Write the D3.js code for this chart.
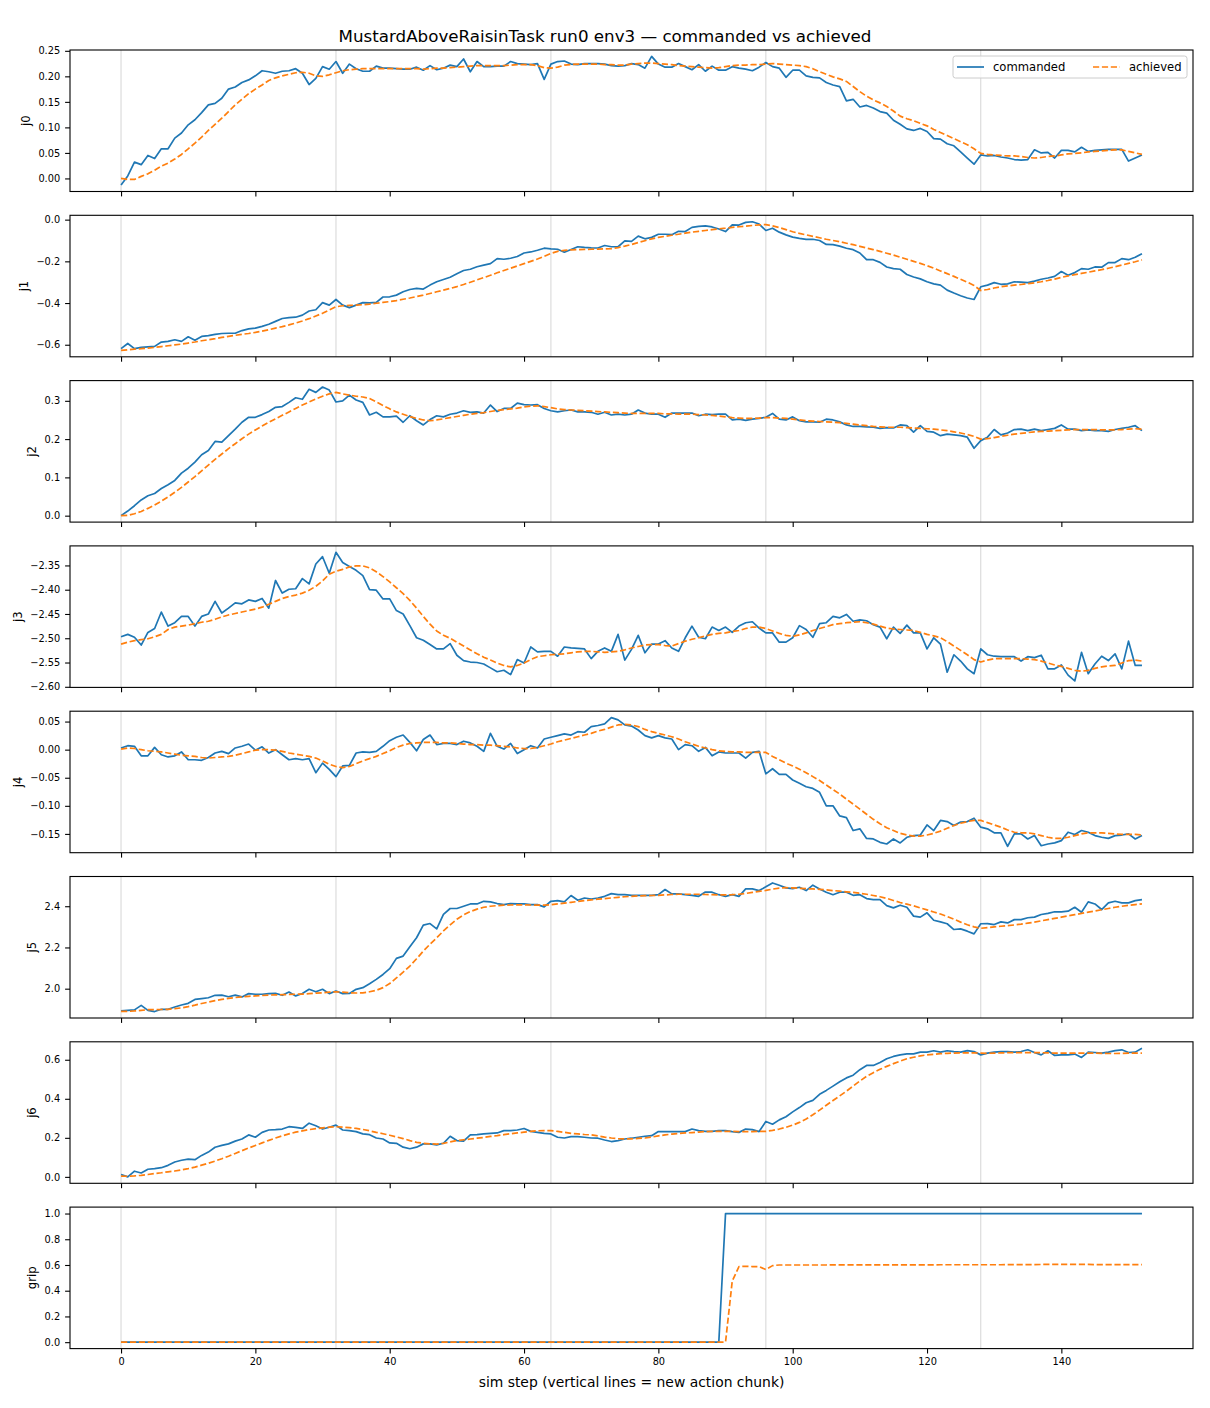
<!DOCTYPE html>
<html>
<head>
<meta charset="utf-8">
<script src="https://cdn.jsdelivr.net/npm/d3@7"></script>
<style>
  body { margin: 0; background: #fff; }
  text { font-family: "DejaVu Sans", sans-serif; }
</style>
</head>
<body>
<svg id="chart" width="1210" height="1408"></svg>
<script>
// ---- data (one value per sim step, 0..152) ----
const xTicks = [0, 20, 40, 60, 80, 100, 120, 140];
const chunkStarts = [0, 32, 64, 96, 128];

const j0Ticks = [0, 0.05, 0.1, 0.15, 0.2, 0.25];
const j1Ticks = [-0.6, -0.4, -0.2, 0];
const j2Ticks = [0, 0.1, 0.2, 0.3];
const j3Ticks = [-2.6, -2.55, -2.5, -2.45, -2.4, -2.35];
const j4Ticks = [-0.15, -0.1, -0.05, 0, 0.05];
const j5Ticks = [2.0, 2.2, 2.4];
const j6Ticks = [0, 0.2, 0.4, 0.6];
const gripTicks = [0, 0.2, 0.4, 0.6, 0.8, 1.0];

const j0Cmd = [
  -0.013, 0.005, 0.032, 0.027, 0.045, 0.039, 0.058, 0.058, 0.079, 0.089,
  0.105, 0.115, 0.129, 0.144, 0.147, 0.157, 0.175, 0.179, 0.188, 0.193,
  0.201, 0.211, 0.209, 0.206, 0.210, 0.211, 0.215, 0.206, 0.184, 0.196,
  0.219, 0.214, 0.229, 0.206, 0.224, 0.215, 0.210, 0.210, 0.220, 0.216,
  0.216, 0.215, 0.214, 0.214, 0.218, 0.212, 0.221, 0.213, 0.216, 0.222,
  0.219, 0.234, 0.209, 0.229, 0.219, 0.219, 0.220, 0.220, 0.229, 0.225,
  0.224, 0.223, 0.225, 0.194, 0.224, 0.229, 0.230, 0.224, 0.223, 0.225,
  0.225, 0.225, 0.224, 0.221, 0.220, 0.221, 0.225, 0.223, 0.216, 0.239,
  0.224, 0.218, 0.218, 0.225, 0.219, 0.213, 0.223, 0.210, 0.220, 0.212,
  0.212, 0.219, 0.216, 0.214, 0.211, 0.218, 0.227, 0.219, 0.216, 0.198,
  0.212, 0.212, 0.201, 0.198, 0.197, 0.188, 0.183, 0.180, 0.152, 0.155,
  0.140, 0.143, 0.138, 0.131, 0.128, 0.114, 0.106, 0.097, 0.094, 0.098,
  0.092, 0.078, 0.077, 0.068, 0.064, 0.052, 0.040, 0.028, 0.046, 0.044,
  0.045, 0.042, 0.040, 0.037, 0.036, 0.037, 0.056, 0.050, 0.051, 0.040,
  0.055, 0.055, 0.052, 0.061, 0.053, 0.055, 0.056, 0.057, 0.057, 0.057,
  0.034, 0.040, 0.046
];
const j0Ach = [
  0.000, -0.002, -0.002, 0.004, 0.009, 0.016, 0.024, 0.030, 0.038, 0.047,
  0.058, 0.069, 0.081, 0.094, 0.106, 0.118, 0.131, 0.144, 0.155, 0.166,
  0.175, 0.183, 0.192, 0.197, 0.201, 0.204, 0.207, 0.208, 0.206, 0.201,
  0.200, 0.203, 0.207, 0.211, 0.213, 0.214, 0.215, 0.215, 0.215, 0.215,
  0.215, 0.215, 0.215, 0.215, 0.215, 0.214, 0.215, 0.216, 0.216, 0.217,
  0.218, 0.219, 0.220, 0.221, 0.221, 0.221, 0.221, 0.221, 0.222, 0.223,
  0.223, 0.223, 0.221, 0.217, 0.216, 0.218, 0.222, 0.223, 0.224, 0.224,
  0.224, 0.224, 0.223, 0.223, 0.222, 0.222, 0.224, 0.225, 0.226, 0.226,
  0.225, 0.224, 0.223, 0.221, 0.220, 0.219, 0.218, 0.217, 0.216, 0.217,
  0.219, 0.221, 0.222, 0.222, 0.223, 0.223, 0.224, 0.225, 0.224, 0.223,
  0.222, 0.221, 0.219, 0.215, 0.209, 0.204, 0.199, 0.195, 0.190, 0.180,
  0.170, 0.161, 0.154, 0.148, 0.141, 0.132, 0.122, 0.117, 0.113, 0.108,
  0.103, 0.096, 0.090, 0.084, 0.078, 0.072, 0.066, 0.058, 0.049, 0.047,
  0.046, 0.045, 0.044, 0.044, 0.043, 0.041, 0.040, 0.041, 0.043, 0.044,
  0.046, 0.048, 0.049, 0.050, 0.052, 0.053, 0.054, 0.055, 0.056, 0.056,
  0.053, 0.050, 0.047
];

const j1Cmd = [
  -0.619, -0.594, -0.619, -0.613, -0.610, -0.608, -0.587, -0.584, -0.576, -0.584,
  -0.562, -0.578, -0.560, -0.556, -0.550, -0.546, -0.545, -0.545, -0.532, -0.524,
  -0.520, -0.512, -0.502, -0.488, -0.474, -0.470, -0.468, -0.458, -0.438, -0.432,
  -0.398, -0.410, -0.383, -0.410, -0.422, -0.410, -0.398, -0.399, -0.397, -0.371,
  -0.370, -0.362, -0.346, -0.335, -0.330, -0.333, -0.314, -0.298, -0.287, -0.276,
  -0.260, -0.244, -0.238, -0.226, -0.218, -0.211, -0.187, -0.190, -0.185, -0.177,
  -0.160, -0.155, -0.147, -0.137, -0.140, -0.142, -0.156, -0.143, -0.130, -0.133,
  -0.135, -0.136, -0.124, -0.130, -0.130, -0.102, -0.104, -0.079, -0.092, -0.085,
  -0.070, -0.070, -0.072, -0.056, -0.057, -0.037, -0.032, -0.030, -0.035, -0.045,
  -0.057, -0.025, -0.026, -0.013, -0.010, -0.021, -0.052, -0.041, -0.060, -0.073,
  -0.084, -0.090, -0.095, -0.094, -0.100, -0.119, -0.120, -0.127, -0.137, -0.144,
  -0.160, -0.192, -0.192, -0.205, -0.227, -0.235, -0.238, -0.263, -0.275, -0.284,
  -0.298, -0.308, -0.314, -0.338, -0.352, -0.365, -0.376, -0.383, -0.322, -0.314,
  -0.302, -0.310, -0.308, -0.298, -0.300, -0.302, -0.295, -0.286, -0.280, -0.272,
  -0.249, -0.267, -0.254, -0.235, -0.238, -0.227, -0.228, -0.206, -0.206, -0.187,
  -0.192, -0.180, -0.163
];
const j1Ach = [
  -0.627, -0.624, -0.621, -0.619, -0.616, -0.613, -0.609, -0.605, -0.601, -0.597,
  -0.592, -0.587, -0.581, -0.576, -0.571, -0.565, -0.560, -0.555, -0.550, -0.546,
  -0.541, -0.535, -0.528, -0.520, -0.513, -0.505, -0.496, -0.486, -0.475, -0.462,
  -0.449, -0.433, -0.418, -0.413, -0.411, -0.410, -0.408, -0.405, -0.401, -0.397,
  -0.393, -0.388, -0.382, -0.376, -0.369, -0.362, -0.354, -0.346, -0.338, -0.330,
  -0.321, -0.311, -0.300, -0.289, -0.278, -0.267, -0.255, -0.244, -0.233, -0.222,
  -0.211, -0.200, -0.189, -0.176, -0.162, -0.152, -0.147, -0.145, -0.144, -0.143,
  -0.142, -0.141, -0.140, -0.139, -0.134, -0.127, -0.119, -0.110, -0.101, -0.092,
  -0.085, -0.080, -0.075, -0.070, -0.065, -0.060, -0.056, -0.052, -0.048, -0.044,
  -0.041, -0.037, -0.034, -0.031, -0.028, -0.025, -0.024, -0.030, -0.038, -0.048,
  -0.058, -0.066, -0.073, -0.080, -0.087, -0.094, -0.100, -0.106, -0.113, -0.120,
  -0.128, -0.136, -0.144, -0.152, -0.161, -0.170, -0.180, -0.190, -0.200, -0.210,
  -0.221, -0.233, -0.246, -0.259, -0.272, -0.286, -0.300, -0.316, -0.340, -0.335,
  -0.328, -0.322, -0.318, -0.314, -0.311, -0.307, -0.303, -0.298, -0.292, -0.285,
  -0.277, -0.270, -0.264, -0.258, -0.252, -0.246, -0.240, -0.233, -0.226, -0.218,
  -0.210, -0.202, -0.193
];

const j2Cmd = [
  0.000, 0.012, 0.026, 0.041, 0.052, 0.058, 0.071, 0.081, 0.092, 0.111,
  0.124, 0.140, 0.159, 0.170, 0.194, 0.192, 0.209, 0.226, 0.244, 0.257,
  0.257, 0.264, 0.272, 0.283, 0.285, 0.296, 0.308, 0.304, 0.330, 0.322,
  0.336, 0.328, 0.297, 0.300, 0.315, 0.302, 0.296, 0.263, 0.270, 0.258,
  0.258, 0.260, 0.244, 0.261, 0.248, 0.237, 0.251, 0.261, 0.258, 0.265,
  0.268, 0.274, 0.270, 0.271, 0.268, 0.289, 0.272, 0.280, 0.280, 0.294,
  0.290, 0.289, 0.290, 0.280, 0.274, 0.271, 0.274, 0.276, 0.271, 0.271,
  0.270, 0.265, 0.270, 0.263, 0.265, 0.263, 0.265, 0.276, 0.268, 0.265,
  0.265, 0.257, 0.268, 0.268, 0.268, 0.268, 0.261, 0.265, 0.264, 0.265,
  0.265, 0.250, 0.252, 0.249, 0.252, 0.254, 0.257, 0.267, 0.252, 0.250,
  0.258, 0.248, 0.245, 0.245, 0.244, 0.252, 0.250, 0.245, 0.237, 0.233,
  0.233, 0.232, 0.231, 0.228, 0.230, 0.229, 0.237, 0.235, 0.218, 0.235,
  0.220, 0.218, 0.209, 0.213, 0.211, 0.209, 0.205, 0.176, 0.196, 0.205,
  0.225, 0.211, 0.216, 0.225, 0.226, 0.222, 0.226, 0.222, 0.225, 0.228,
  0.237, 0.226, 0.226, 0.222, 0.224, 0.222, 0.222, 0.220, 0.225, 0.228,
  0.231, 0.235, 0.222
];
const j2Ach = [
  0.000, 0.001, 0.005, 0.011, 0.019, 0.028, 0.038, 0.049, 0.061, 0.074,
  0.088, 0.102, 0.117, 0.132, 0.147, 0.161, 0.175, 0.188, 0.201, 0.213,
  0.224, 0.234, 0.244, 0.253, 0.262, 0.271, 0.280, 0.289, 0.297, 0.305,
  0.312, 0.318, 0.322, 0.318, 0.315, 0.312, 0.310, 0.306, 0.297, 0.288,
  0.279, 0.271, 0.265, 0.259, 0.254, 0.250, 0.248, 0.250, 0.253, 0.256,
  0.259, 0.262, 0.265, 0.267, 0.269, 0.272, 0.275, 0.277, 0.279, 0.281,
  0.284, 0.286, 0.287, 0.285, 0.282, 0.279, 0.277, 0.276, 0.275, 0.274,
  0.273, 0.272, 0.271, 0.270, 0.269, 0.268, 0.267, 0.267, 0.267, 0.267,
  0.267, 0.266, 0.266, 0.265, 0.265, 0.265, 0.264, 0.263, 0.262, 0.260,
  0.258, 0.256, 0.255, 0.254, 0.254, 0.255, 0.256, 0.256, 0.255, 0.254,
  0.252, 0.250, 0.248, 0.247, 0.246, 0.245, 0.244, 0.243, 0.241, 0.239,
  0.237, 0.235, 0.233, 0.232, 0.231, 0.231, 0.231, 0.230, 0.229, 0.228,
  0.227, 0.226, 0.224, 0.222, 0.219, 0.216, 0.212, 0.207, 0.200, 0.201,
  0.204, 0.207, 0.210, 0.213, 0.215, 0.217, 0.219, 0.220, 0.221, 0.222,
  0.223, 0.224, 0.225, 0.225, 0.225, 0.225, 0.224, 0.224, 0.224, 0.225,
  0.226, 0.227, 0.226
];

const j3Cmd = [
  -2.497, -2.492, -2.498, -2.514, -2.488, -2.480, -2.446, -2.475, -2.468, -2.455,
  -2.455, -2.475, -2.455, -2.450, -2.424, -2.448, -2.438, -2.427, -2.429, -2.421,
  -2.424, -2.418, -2.438, -2.381, -2.407, -2.399, -2.398, -2.377, -2.388, -2.347,
  -2.332, -2.366, -2.323, -2.344, -2.352, -2.360, -2.371, -2.400, -2.401, -2.419,
  -2.419, -2.443, -2.450, -2.474, -2.499, -2.504, -2.513, -2.522, -2.522, -2.511,
  -2.535, -2.546, -2.549, -2.550, -2.553, -2.561, -2.569, -2.566, -2.575, -2.544,
  -2.551, -2.518, -2.528, -2.527, -2.527, -2.537, -2.518, -2.520, -2.521, -2.522,
  -2.542, -2.527, -2.520, -2.527, -2.492, -2.545, -2.523, -2.494, -2.530, -2.512,
  -2.512, -2.505, -2.520, -2.527, -2.499, -2.475, -2.498, -2.501, -2.477, -2.484,
  -2.477, -2.488, -2.475, -2.468, -2.466, -2.479, -2.489, -2.489, -2.508, -2.508,
  -2.499, -2.474, -2.482, -2.498, -2.470, -2.468, -2.455, -2.458, -2.451, -2.465,
  -2.462, -2.464, -2.472, -2.477, -2.501, -2.477, -2.490, -2.473, -2.489, -2.489,
  -2.522, -2.499, -2.512, -2.570, -2.534, -2.547, -2.563, -2.573, -2.522, -2.534,
  -2.537, -2.538, -2.538, -2.538, -2.547, -2.538, -2.540, -2.535, -2.563, -2.563,
  -2.555, -2.576, -2.588, -2.529, -2.573, -2.553, -2.537, -2.546, -2.532, -2.563,
  -2.506, -2.556, -2.556
];
const j3Ach = [
  -2.512, -2.508, -2.505, -2.503, -2.501, -2.497, -2.492, -2.482, -2.477, -2.475,
  -2.473, -2.470, -2.467, -2.465, -2.461, -2.456, -2.452, -2.449, -2.446, -2.443,
  -2.440, -2.436, -2.430, -2.424, -2.418, -2.414, -2.411, -2.407, -2.401, -2.393,
  -2.382, -2.368, -2.362, -2.358, -2.353, -2.351, -2.351, -2.355, -2.363, -2.373,
  -2.384, -2.396, -2.408, -2.422, -2.438, -2.455, -2.471, -2.485, -2.494, -2.500,
  -2.508, -2.516, -2.524, -2.532, -2.539, -2.545, -2.551, -2.556, -2.559, -2.556,
  -2.551, -2.544, -2.538, -2.536, -2.534, -2.533, -2.532, -2.530, -2.528, -2.527,
  -2.527, -2.528, -2.529, -2.528, -2.527, -2.524, -2.520, -2.517, -2.514, -2.513,
  -2.513, -2.515, -2.516, -2.511, -2.506, -2.502, -2.499, -2.495, -2.492, -2.490,
  -2.489, -2.486, -2.484, -2.480, -2.477, -2.477, -2.480, -2.485, -2.490, -2.494,
  -2.496, -2.493, -2.489, -2.484, -2.480, -2.476, -2.472, -2.470, -2.468, -2.467,
  -2.466, -2.468, -2.471, -2.475, -2.479, -2.481, -2.482, -2.483, -2.484, -2.488,
  -2.492, -2.495, -2.499, -2.507, -2.516, -2.525, -2.534, -2.544, -2.549, -2.545,
  -2.542, -2.542, -2.542, -2.542, -2.542, -2.543, -2.544, -2.547, -2.551, -2.555,
  -2.558, -2.562, -2.566, -2.568, -2.566, -2.562, -2.559, -2.557, -2.556, -2.551,
  -2.546, -2.545, -2.547
];

const j4Cmd = [
  0.003, 0.007, 0.006, -0.011, -0.011, 0.004, -0.009, -0.013, -0.011, -0.004,
  -0.018, -0.018, -0.019, -0.014, -0.006, -0.003, -0.007, 0.003, 0.006, 0.010,
  -0.001, 0.005, -0.006, 0.000, -0.009, -0.018, -0.016, -0.018, -0.016, -0.041,
  -0.024, -0.035, -0.048, -0.029, -0.028, -0.006, -0.004, -0.005, -0.003, 0.006,
  0.016, 0.022, 0.026, 0.013, -0.002, 0.018, 0.026, 0.009, 0.011, 0.011,
  0.009, 0.015, 0.012, 0.006, -0.003, 0.029, 0.006, 0.001, 0.011, -0.007,
  0.000, 0.007, 0.003, 0.019, 0.022, 0.025, 0.028, 0.026, 0.032, 0.031,
  0.041, 0.043, 0.046, 0.057, 0.053, 0.044, 0.042, 0.035, 0.025, 0.021,
  0.025, 0.021, 0.019, 0.000, 0.009, 0.007, -0.003, 0.004, -0.011, -0.004,
  -0.006, -0.006, -0.006, -0.015, -0.005, -0.003, -0.043, -0.034, -0.044, -0.044,
  -0.054, -0.060, -0.066, -0.069, -0.076, -0.100, -0.100, -0.118, -0.121, -0.144,
  -0.141, -0.158, -0.159, -0.165, -0.168, -0.159, -0.166, -0.156, -0.153, -0.152,
  -0.134, -0.144, -0.126, -0.128, -0.135, -0.129, -0.128, -0.122, -0.138, -0.141,
  -0.148, -0.148, -0.172, -0.150, -0.150, -0.159, -0.153, -0.171, -0.168, -0.166,
  -0.162, -0.147, -0.151, -0.144, -0.147, -0.153, -0.156, -0.158, -0.153, -0.152,
  -0.150, -0.159, -0.153
];
const j4Ach = [
  0.001, 0.003, 0.002, 0.000, -0.002, -0.003, -0.004, -0.006, -0.008, -0.010,
  -0.011, -0.012, -0.014, -0.015, -0.014, -0.013, -0.012, -0.010, -0.007, -0.004,
  -0.001, 0.000, 0.000, -0.001, -0.003, -0.006, -0.008, -0.010, -0.012, -0.015,
  -0.020, -0.026, -0.030, -0.032, -0.030, -0.025, -0.020, -0.016, -0.012, -0.007,
  -0.002, 0.004, 0.008, 0.011, 0.012, 0.013, 0.013, 0.013, 0.012, 0.012,
  0.011, 0.010, 0.009, 0.009, 0.008, 0.008, 0.007, 0.006, 0.005, 0.003,
  0.002, 0.002, 0.004, 0.007, 0.010, 0.014, 0.017, 0.020, 0.023, 0.026,
  0.029, 0.033, 0.036, 0.040, 0.044, 0.045, 0.044, 0.041, 0.036, 0.032,
  0.029, 0.026, 0.023, 0.019, 0.014, 0.010, 0.006, 0.003, 0.000, -0.002,
  -0.003, -0.004, -0.004, -0.005, -0.005, -0.005, -0.005, -0.012, -0.018, -0.024,
  -0.029, -0.035, -0.041, -0.048, -0.055, -0.063, -0.071, -0.079, -0.088, -0.097,
  -0.106, -0.115, -0.124, -0.132, -0.139, -0.144, -0.149, -0.152, -0.154, -0.154,
  -0.152, -0.149, -0.145, -0.140, -0.135, -0.131, -0.128, -0.126, -0.126, -0.130,
  -0.134, -0.138, -0.143, -0.147, -0.148, -0.148, -0.150, -0.153, -0.156, -0.158,
  -0.158, -0.156, -0.153, -0.150, -0.148, -0.148, -0.148, -0.149, -0.150, -0.151,
  -0.151, -0.151, -0.152
];

const j5Cmd = [
  1.892, 1.895, 1.897, 1.919, 1.895, 1.889, 1.900, 1.900, 1.911, 1.921,
  1.929, 1.948, 1.952, 1.956, 1.968, 1.969, 1.961, 1.969, 1.960, 1.976,
  1.973, 1.973, 1.976, 1.977, 1.968, 1.984, 1.965, 1.977, 1.997, 1.985,
  1.997, 1.976, 1.989, 1.976, 1.977, 1.997, 2.005, 2.024, 2.045, 2.069,
  2.097, 2.147, 2.158, 2.203, 2.247, 2.308, 2.316, 2.290, 2.360, 2.389,
  2.389, 2.400, 2.411, 2.411, 2.424, 2.421, 2.413, 2.408, 2.413, 2.411,
  2.411, 2.408, 2.408, 2.397, 2.424, 2.427, 2.421, 2.452, 2.429, 2.440,
  2.435, 2.440, 2.448, 2.461, 2.456, 2.456, 2.453, 2.453, 2.453, 2.453,
  2.456, 2.481, 2.460, 2.460, 2.456, 2.453, 2.448, 2.469, 2.468, 2.456,
  2.448, 2.456, 2.448, 2.484, 2.484, 2.476, 2.494, 2.513, 2.502, 2.489,
  2.485, 2.492, 2.476, 2.502, 2.484, 2.468, 2.456, 2.468, 2.468, 2.453,
  2.456, 2.437, 2.432, 2.432, 2.403, 2.392, 2.405, 2.395, 2.352, 2.347,
  2.368, 2.332, 2.324, 2.315, 2.287, 2.290, 2.279, 2.266, 2.315, 2.316,
  2.311, 2.324, 2.319, 2.335, 2.335, 2.344, 2.347, 2.360, 2.365, 2.373,
  2.373, 2.376, 2.395, 2.371, 2.421, 2.411, 2.384, 2.416, 2.424, 2.416,
  2.416, 2.427, 2.432
];
const j5Ach = [
  1.890, 1.890, 1.892, 1.895, 1.898, 1.898, 1.899, 1.900, 1.903, 1.907,
  1.913, 1.920, 1.928, 1.935, 1.942, 1.948, 1.953, 1.957, 1.960, 1.963,
  1.965, 1.967, 1.969, 1.970, 1.971, 1.972, 1.973, 1.974, 1.976, 1.978,
  1.980, 1.983, 1.985, 1.983, 1.980, 1.979, 1.980, 1.985, 1.992, 2.005,
  2.025, 2.052, 2.080, 2.110, 2.145, 2.182, 2.216, 2.247, 2.280, 2.310,
  2.337, 2.358, 2.374, 2.386, 2.395, 2.400, 2.403, 2.405, 2.406, 2.407,
  2.407, 2.406, 2.405, 2.405, 2.407, 2.411, 2.415, 2.419, 2.423, 2.427,
  2.431, 2.434, 2.437, 2.440, 2.443, 2.446, 2.448, 2.450, 2.451, 2.452,
  2.453, 2.455, 2.457, 2.458, 2.458, 2.458, 2.458, 2.457, 2.456, 2.455,
  2.455, 2.456, 2.458, 2.462, 2.467, 2.472, 2.477, 2.483, 2.488, 2.490,
  2.489, 2.487, 2.485, 2.484, 2.482, 2.479, 2.476, 2.473, 2.470, 2.467,
  2.463, 2.458, 2.452, 2.446, 2.438, 2.428, 2.418, 2.410, 2.402, 2.392,
  2.382, 2.372, 2.362, 2.350, 2.337, 2.323, 2.310, 2.300, 2.293, 2.296,
  2.300, 2.303, 2.306, 2.309, 2.313, 2.318, 2.323, 2.329, 2.335, 2.341,
  2.347, 2.353, 2.359, 2.365, 2.371, 2.377, 2.383, 2.389, 2.395, 2.400,
  2.404, 2.408, 2.411
];

const j6Cmd = [
  0.012, 0.000, 0.029, 0.020, 0.039, 0.042, 0.047, 0.059, 0.076, 0.085,
  0.091, 0.088, 0.110, 0.127, 0.152, 0.161, 0.169, 0.183, 0.194, 0.215,
  0.203, 0.228, 0.240, 0.242, 0.245, 0.257, 0.254, 0.248, 0.275, 0.262,
  0.245, 0.254, 0.265, 0.240, 0.237, 0.232, 0.220, 0.216, 0.199, 0.194,
  0.174, 0.172, 0.152, 0.144, 0.152, 0.169, 0.169, 0.164, 0.172, 0.208,
  0.186, 0.183, 0.215, 0.216, 0.220, 0.223, 0.225, 0.237, 0.237, 0.240,
  0.248, 0.233, 0.228, 0.223, 0.220, 0.203, 0.199, 0.206, 0.206, 0.203,
  0.199, 0.198, 0.189, 0.181, 0.186, 0.194, 0.198, 0.203, 0.208, 0.211,
  0.232, 0.232, 0.232, 0.232, 0.232, 0.245, 0.237, 0.233, 0.233, 0.237,
  0.237, 0.232, 0.228, 0.245, 0.242, 0.232, 0.284, 0.270, 0.292, 0.308,
  0.333, 0.355, 0.380, 0.392, 0.423, 0.443, 0.465, 0.487, 0.507, 0.521,
  0.549, 0.571, 0.571, 0.586, 0.605, 0.617, 0.625, 0.630, 0.630, 0.639,
  0.639, 0.646, 0.639, 0.646, 0.642, 0.639, 0.647, 0.642, 0.625, 0.634,
  0.639, 0.642, 0.642, 0.639, 0.642, 0.651, 0.637, 0.625, 0.646, 0.622,
  0.625, 0.625, 0.629, 0.612, 0.639, 0.637, 0.634, 0.639, 0.647, 0.651,
  0.637, 0.639, 0.659
];
const j6Ach = [
  0.004, 0.003, 0.005, 0.008, 0.012, 0.017, 0.021, 0.026, 0.030, 0.036,
  0.042, 0.050, 0.060, 0.070, 0.081, 0.093, 0.106, 0.120, 0.134, 0.148,
  0.161, 0.174, 0.187, 0.199, 0.210, 0.220, 0.229, 0.236, 0.242, 0.247,
  0.251, 0.255, 0.257, 0.255, 0.252, 0.248, 0.243, 0.236, 0.228, 0.221,
  0.213, 0.205, 0.196, 0.186, 0.177, 0.172, 0.169, 0.168, 0.172, 0.179,
  0.186, 0.190, 0.194, 0.198, 0.202, 0.207, 0.211, 0.216, 0.221, 0.225,
  0.229, 0.233, 0.236, 0.237, 0.237, 0.233, 0.228, 0.223, 0.220, 0.217,
  0.215, 0.210, 0.204, 0.199, 0.196, 0.194, 0.195, 0.197, 0.199, 0.204,
  0.210, 0.215, 0.219, 0.222, 0.225, 0.227, 0.229, 0.232, 0.233, 0.233,
  0.233, 0.233, 0.232, 0.232, 0.232, 0.233, 0.233, 0.238, 0.245, 0.254,
  0.265, 0.279, 0.296, 0.318, 0.342, 0.367, 0.391, 0.415, 0.439, 0.465,
  0.491, 0.515, 0.534, 0.551, 0.566, 0.580, 0.593, 0.605, 0.613, 0.620,
  0.625, 0.628, 0.631, 0.633, 0.634, 0.635, 0.635, 0.635, 0.634, 0.633,
  0.634, 0.635, 0.636, 0.637, 0.637, 0.637, 0.637, 0.636, 0.635, 0.634,
  0.634, 0.634, 0.634, 0.634, 0.634, 0.634, 0.633, 0.632, 0.632, 0.633,
  0.634, 0.634, 0.634
];

const gripCmd = [
  0, 0, 0, 0, 0, 0, 0, 0, 0, 0,
  0, 0, 0, 0, 0, 0, 0, 0, 0, 0,
  0, 0, 0, 0, 0, 0, 0, 0, 0, 0,
  0, 0, 0, 0, 0, 0, 0, 0, 0, 0,
  0, 0, 0, 0, 0, 0, 0, 0, 0, 0,
  0, 0, 0, 0, 0, 0, 0, 0, 0, 0,
  0, 0, 0, 0, 0, 0, 0, 0, 0, 0,
  0, 0, 0, 0, 0, 0, 0, 0, 0, 0,
  0, 0, 0, 0, 0, 0, 0, 0, 0, 0,
  1, 1, 1, 1, 1, 1, 1, 1, 1, 1,
  1, 1, 1, 1, 1, 1, 1, 1, 1, 1,
  1, 1, 1, 1, 1, 1, 1, 1, 1, 1,
  1, 1, 1, 1, 1, 1, 1, 1, 1, 1,
  1, 1, 1, 1, 1, 1, 1, 1, 1, 1,
  1, 1, 1, 1, 1, 1, 1, 1, 1, 1,
  1, 1, 1
];
const gripAch = [
  0, 0, 0, 0, 0, 0, 0, 0, 0, 0,
  0, 0, 0, 0, 0, 0, 0, 0, 0, 0,
  0, 0, 0, 0, 0, 0, 0, 0, 0, 0,
  0, 0, 0, 0, 0, 0, 0, 0, 0, 0,
  0, 0, 0, 0, 0, 0, 0, 0, 0, 0,
  0, 0, 0, 0, 0, 0, 0, 0, 0, 0,
  0, 0, 0, 0, 0, 0, 0, 0, 0, 0,
  0, 0, 0, 0, 0, 0, 0, 0, 0, 0,
  0, 0, 0, 0, 0, 0, 0, 0, 0, 0,
  0, 0.475, 0.588, 0.590, 0.588, 0.587, 0.565, 0.595, 0.600, 0.600,
  0.600, 0.600, 0.600, 0.600, 0.600, 0.600, 0.601, 0.601, 0.601, 0.601,
  0.601, 0.601, 0.601, 0.601, 0.601, 0.601, 0.601, 0.601, 0.601, 0.601,
  0.601, 0.601, 0.602, 0.602, 0.602, 0.602, 0.602, 0.602, 0.602, 0.602,
  0.602, 0.602, 0.603, 0.603, 0.603, 0.603, 0.603, 0.604, 0.604, 0.604,
  0.604, 0.604, 0.604, 0.604, 0.604, 0.603, 0.603, 0.603, 0.603, 0.603,
  0.603, 0.603, 0.603
];

// one row per subplot
const panels = [
  { name: "j0", cmd: j0Cmd, ach: j0Ach, ticks: j0Ticks, fmt: ".2f" },
  { name: "j1", cmd: j1Cmd, ach: j1Ach, ticks: j1Ticks, fmt: ".1f" },
  { name: "j2", cmd: j2Cmd, ach: j2Ach, ticks: j2Ticks, fmt: ".1f" },
  { name: "j3", cmd: j3Cmd, ach: j3Ach, ticks: j3Ticks, fmt: ".2f" },
  { name: "j4", cmd: j4Cmd, ach: j4Ach, ticks: j4Ticks, fmt: ".2f" },
  { name: "j5", cmd: j5Cmd, ach: j5Ach, ticks: j5Ticks, fmt: ".1f" },
  { name: "j6", cmd: j6Cmd, ach: j6Ach, ticks: j6Ticks, fmt: ".1f" },
  { name: "grip", cmd: gripCmd, ach: gripAch, ticks: gripTicks, fmt: ".1f" }
];

// ---- layout ----
const left = 70, right = 1193;
const top0 = 50, panelH = 141.5, panelStep = 165.3;
const tickLen = 4.9, tickPad = 4.9;
const blue = "#1f77b4", orange = "#ff7f0e";

const svg = d3.select("#chart");
svg.append("rect").attr("width", 1210).attr("height", 1408).attr("fill", "#fff");

// x: matplotlib-style 5% margin around the step range
const lastStep = j0Cmd.length - 1;
const x = d3.scaleLinear()
  .domain([-0.05 * lastStep, lastStep * 1.05])
  .range([left, right]);

panels.forEach((p, i) => {
  const y0 = top0 + i * panelStep;
  const all = p.cmd.concat(p.ach);
  const lo = d3.min(all), hi = d3.max(all);
  const pad = (hi - lo) * 0.05;
  const y = d3.scaleLinear().domain([lo - pad, hi + pad]).range([y0 + panelH, y0]);

  const g = svg.append("g");

  // vertical lines = new action chunk
  g.selectAll("line.chunk")
    .data(chunkStarts)
    .join("line")
    .attr("class", "chunk")
    .attr("x1", d => x(d)).attr("x2", d => x(d))
    .attr("y1", y0).attr("y2", y0 + panelH)
    .attr("stroke", "#808080")
    .attr("stroke-opacity", 0.3)
    .attr("stroke-width", 1.1);

  const line = d3.line()
    .x((d, k) => x(k))
    .y(d => y(d));

  g.append("path")
    .datum(p.cmd)
    .attr("d", line)
    .attr("fill", "none")
    .attr("stroke", blue)
    .attr("stroke-width", 1.7)
    .attr("stroke-linejoin", "round");

  g.append("path")
    .datum(p.ach)
    .attr("d", line)
    .attr("fill", "none")
    .attr("stroke", orange)
    .attr("stroke-width", 1.7)
    .attr("stroke-dasharray", "6.2,2.7")
    .attr("stroke-linejoin", "round");

  // y axis
  const ya = g.append("g")
    .attr("transform", `translate(${left},0)`)
    .call(d3.axisLeft(y)
      .tickValues(p.ticks)
      .tickFormat(d3.format(p.fmt))
      .tickSize(tickLen)
      .tickPadding(tickPad));
  ya.select(".domain").remove();
  ya.attr("font-family", "DejaVu Sans").attr("font-size", 9.8);
  ya.selectAll(".tick line").attr("stroke-width", 1.1);

  // x axis (labels only on the bottom subplot)
  const isLast = i === panels.length - 1;
  const xa = g.append("g")
    .attr("transform", `translate(0,${y0 + panelH})`)
    .call(d3.axisBottom(x)
      .tickValues(xTicks)
      .tickFormat(isLast ? d3.format("d") : () => "")
      .tickSize(tickLen)
      .tickPadding(tickPad));
  xa.select(".domain").remove();
  xa.attr("font-family", "DejaVu Sans").attr("font-size", 9.8);
  xa.selectAll(".tick line").attr("stroke-width", 1.1);

  // frame
  g.append("rect")
    .attr("x", left).attr("y", y0)
    .attr("width", right - left).attr("height", panelH)
    .attr("fill", "none")
    .attr("stroke", "#000")
    .attr("stroke-width", 1.1);

  // y label sits left of the widest tick label
  const bb = ya.node().getBBox();
  g.append("text")
    .attr("transform", `translate(${left + bb.x - 5.6 - 2.8},${y0 + panelH / 2}) rotate(-90)`)
    .attr("text-anchor", "middle")
    .attr("font-size", 11.6)
    .text(p.name);

  // legend in the first subplot
  if (i === 0) {
    const lg = g.append("g");
    lg.append("rect")
      .attr("x", 953).attr("y", 56)
      .attr("width", 234).attr("height", 22)
      .attr("rx", 2.5)
      .attr("fill", "#fff").attr("fill-opacity", 0.8)
      .attr("stroke", "#cccccc").attr("stroke-width", 1);
    const items = [
      { label: "commanded", color: blue, dash: null, x: 957 },
      { label: "achieved", color: orange, dash: "6.2,2.7", x: 1093 }
    ];
    items.forEach(it => {
      lg.append("line")
        .attr("x1", it.x).attr("x2", it.x + 27)
        .attr("y1", 67).attr("y2", 67)
        .attr("stroke", it.color)
        .attr("stroke-width", 1.7)
        .attr("stroke-dasharray", it.dash);
      lg.append("text")
        .attr("x", it.x + 36).attr("y", 67)
        .attr("dy", "0.35em")
        .attr("font-size", 11.6)
        .text(it.label);
    });
  }
});

// titles
svg.append("text")
  .attr("x", 605).attr("y", 41.5)
  .attr("text-anchor", "middle")
  .attr("font-size", 16.7)
  .text("MustardAboveRaisinTask run0 env3 — commanded vs achieved");

svg.append("text")
  .attr("x", (left + right) / 2).attr("y", 1387)
  .attr("text-anchor", "middle")
  .attr("font-size", 13.9)
  .text("sim step (vertical lines = new action chunk)");
</script>
</body>
</html>
